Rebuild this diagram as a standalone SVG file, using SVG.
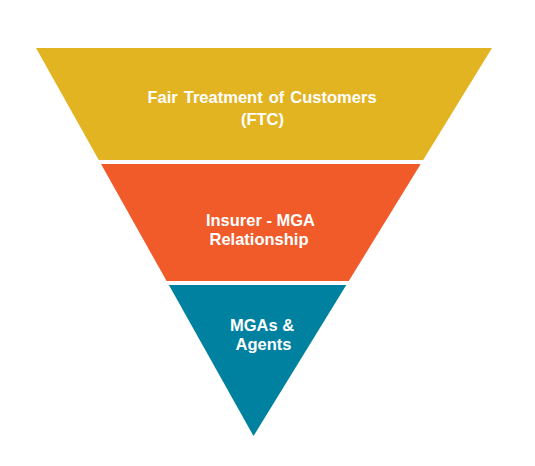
<svg xmlns="http://www.w3.org/2000/svg" width="535" height="466" viewBox="0 0 535 466">
<style>
.t{font-family:"Liberation Sans",Arial,sans-serif;font-weight:bold;font-size:16.5px;fill:#ffffff;text-anchor:middle}
</style>
<rect width="535" height="466" fill="#ffffff"/>
<g id="ftc">
<polygon points="36,48 492,48 423.2,160 98.8,160" fill="#E3B422"/>
<text class="t" x="262" y="103" word-spacing="1.5">Fair Treatment of Customers</text>
<text class="t" x="262.5" y="124.5">(FTC)</text>
</g>
<g id="insurer-mga">
<polygon points="101,164 420.7,164 348.8,281 166.6,281" fill="#F15A29"/>
<text class="t" x="260.5" y="226">Insurer - MGA</text>
<text class="t" x="259" y="245">Relationship</text>
</g>
<g id="mgas-agents">
<polygon points="168.9,285 346.3,285 253.5,436" fill="#00819F"/>
<text class="t" x="262" y="330.5">MGAs &amp;</text>
<text class="t" x="263.5" y="350">Agents</text>
</g>
<g id="connectors"/>
</svg>
